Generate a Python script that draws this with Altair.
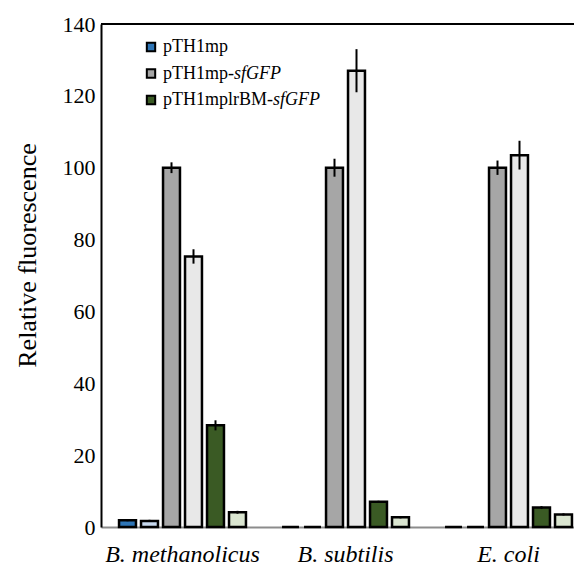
import altair as alt
import pandas as pd

organisms = ["B. methanolicus", "B. subtilis", "E. coli"]
bar_keys = ["pTH1mp", "pTH1mp (pattern)", "pTH1mp-sfGFP", "pTH1mp-sfGFP (pattern)",
            "pTH1mplrBM-sfGFP", "pTH1mplrBM-sfGFP (pattern)"]
bar_colors = ["#2e75b6", "#c7d8ee", "#a6a6a6", "#e8e8e8", "#3a5a24", "#dae5d0"]

values_bmeth = [1.9, 1.7, 100, 75.3, 28.3, 4.1]
values_bsub = [0, 0, 100, 127, 7.0, 2.7]
values_ecoli = [0, 0, 100, 103.5, 5.4, 3.5]
errors_bmeth = [0.3, 0.3, 1.5, 2.0, 1.4, 0.4]
errors_bsub = [0, 0, 2.5, 6.0, 0.3, 0.3]
errors_ecoli = [0, 0, 2.0, 4.0, 0.4, 0.3]

legend_labels = ["pTH1mp", "pTH1mp-", "pTH1mplrBM-"]
legend_italic = ["", "sfGFP", "sfGFP"]
legend_colors = ["#2e75b6", "#a6a6a6", "#3a5a24"]

FONT = "Liberation Serif, Times New Roman, serif"

rows = []
for org, vals, errs in zip(organisms, [values_bmeth, values_bsub, values_ecoli],
                           [errors_bmeth, errors_bsub, errors_ecoli]):
    for k, v, e in zip(bar_keys, vals, errs):
        rows.append({"organism": org, "bar": k, "value": v, "err": e,
                     "lo": v - e, "hi": v + e})
df = pd.DataFrame(rows)

x_axis = alt.Axis(labelFont=FONT, labelFontSize=24, labelFontStyle="italic",
                  labelColor="black", labelPadding=15, ticks=False,
                  domainColor="#8c8c8c", domainWidth=2, labelAngle=0, title=None)
y_axis = alt.Axis(values=list(range(0, 141, 20)), grid=False, ticks=False,
                  domainColor="black", domainWidth=2,
                  labelFont=FONT, labelFontSize=22, labelColor="black",
                  labelPadding=6,
                  title="Relative fluorescence", titleFont=FONT,
                  titleFontSize=26, titleFontWeight="normal", titleColor="black",
                  titleAngle=270, titleX=-74, titleY=231,
                  titleAlign="center", titleBaseline="middle")

x_enc = alt.X("organism:N", sort=organisms, title=None,
              scale=alt.Scale(range=[0, 489], paddingInner=0, paddingOuter=0),
              axis=x_axis)
xoff_enc = alt.XOffset("bar:N", sort=bar_keys,
                       scale=alt.Scale(paddingInner=0.23, paddingOuter=0.82))
y_scale = alt.Scale(domain=[0, 140], nice=False)

bars = alt.Chart(df).mark_bar(stroke="black", strokeWidth=2.5).encode(
    x=x_enc,
    xOffset=xoff_enc,
    y=alt.Y("value:Q", scale=y_scale, axis=y_axis),
    color=alt.Color("bar:N", scale=alt.Scale(domain=bar_keys, range=bar_colors), legend=None),
)

errbars = alt.Chart(df[df["err"] > 0]).mark_rule(color="black", strokeWidth=2).encode(
    x=alt.X("organism:N", sort=organisms, axis=x_axis),
    xOffset=alt.XOffset("bar:N", sort=bar_keys),
    y=alt.Y("lo:Q", axis=y_axis),
    y2="hi:Q",
)

top_line = alt.Chart(pd.DataFrame({"top": [140]})).mark_rule(
    color="black", strokeWidth=2).encode(y=alt.Y("top:Q", axis=y_axis))

legend_layers = []
row_y = [23, 49.5, 76]
italic_dx = [0, 71, 110]
for i in range(3):
    ldf = pd.DataFrame({"label": [legend_labels[i]], "ital": [legend_italic[i]]})
    sq = alt.Chart(ldf).mark_square(size=70, fill=legend_colors[i], stroke="black",
                                    strokeWidth=2, opacity=1).encode(
        x=alt.value(50), y=alt.value(row_y[i]))
    tx = alt.Chart(ldf).mark_text(font=FONT, fontSize=18, align="left",
                                  baseline="middle", color="black").encode(
        x=alt.value(62), y=alt.value(row_y[i]), text="label:N")
    legend_layers += [sq, tx]
    if legend_italic[i]:
        ti = alt.Chart(ldf).mark_text(font=FONT, fontSize=18, fontStyle="italic",
                                      align="left", baseline="middle",
                                      color="black").encode(
            x=alt.value(62 + italic_dx[i]), y=alt.value(row_y[i]), text="ital:N")
        legend_layers.append(ti)

chart = alt.layer(bars, errbars, top_line, *legend_layers).properties(
    width=473, height=503,
    autosize=alt.AutoSizeParams(type="none"),
    padding={"left": 93, "top": 16, "right": 0, "bottom": 40},
).configure(background="white", font=FONT).configure_view(stroke=None).configure_axis(
    labelFont=FONT, titleFont=FONT)

chart.save("out.html", embed_options={"renderer": "svg", "actions": False})
